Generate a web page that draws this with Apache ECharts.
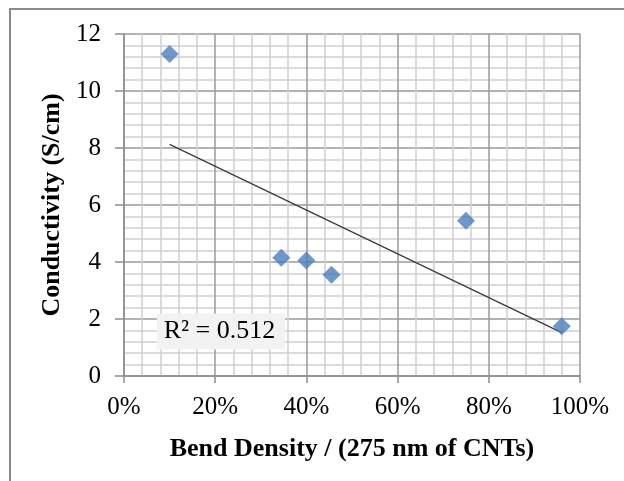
<!DOCTYPE html>
<html>
<head>
<meta charset="utf-8">
<script src="https://cdn.jsdelivr.net/npm/echarts@6/dist/echarts.min.js"></script>
<style>
  html, body { margin: 0; padding: 0; background: #fff; }
  #chart { width: 624px; height: 481px; }
</style>
</head>
<body>
<div id="chart"></div>
<script>
    // data
    const bendDensity = [0.10, 0.345, 0.40, 0.455, 0.75, 0.96];
    const conductivity = [11.3, 4.15, 4.05, 3.55, 5.45, 1.75];
    const xTicks = [0, 0.2, 0.4, 0.6, 0.8, 1.0];
    const yTicks = [0, 2, 4, 6, 8, 10, 12];

    // linear trendline (least squares) + R²
    function linFit(xs, ys) {
        const n = xs.length;
        const mx = xs.reduce((a, b) => a + b, 0) / n;
        const my = ys.reduce((a, b) => a + b, 0) / n;
        let sxy = 0, sxx = 0, syy = 0;
        for (let i = 0; i < n; i++) {
            sxy += (xs[i] - mx) * (ys[i] - my);
            sxx += (xs[i] - mx) * (xs[i] - mx);
            syy += (ys[i] - my) * (ys[i] - my);
        }
        const slope = sxy / sxx;
        return { slope: slope, intercept: my - slope * mx, r2: (sxy * sxy) / (sxx * syy) };
    }
    const fit = linFit(bendDensity, conductivity);
    const xMin = Math.min(...bendDensity), xMax = Math.max(...bendDensity);
    const trend = [
        [xMin, fit.intercept + fit.slope * xMin],
        [xMax, fit.intercept + fit.slope * xMax]
    ];

    const FONT = '"Liberation Serif", "Times New Roman", serif';
    const chart = echarts.init(document.getElementById('chart'));

    chart.setOption({
        animation: false,
        grid: { left: 124, right: 44, top: 34, bottom: 105, containLabel: false },
        xAxis: {
            type: 'value',
            min: xTicks[0],
            max: xTicks[xTicks.length - 1],
            interval: 0.2,
            name: 'Bend Density / (275 nm of CNTs)',
            nameLocation: 'middle',
            nameGap: 60,
            nameTextStyle: { fontFamily: FONT, fontSize: 26, fontWeight: 'bold', color: '#000' },
            axisLine: { lineStyle: { color: '#8c8c8c', width: 1.5 } },
            axisTick: { show: true, length: 7, lineStyle: { color: '#8c8c8c', width: 1.5 } },
            axisLabel: {
                fontFamily: FONT, fontSize: 25, color: '#000', margin: 19,
                formatter: v => Math.round(v * 100) + '%'
            },
            splitLine: { show: true, lineStyle: { color: '#9a9a9a', width: 1.5 } },
            minorTick: { show: false, splitNumber: 5 },
            minorSplitLine: { show: true, lineStyle: { color: '#d0d0d0', width: 1.5 } }
        },
        yAxis: {
            type: 'value',
            min: yTicks[0],
            max: yTicks[yTicks.length - 1],
            interval: 2,
            name: 'Conductivity (S/cm)',
            nameLocation: 'middle',
            nameGap: 57,
            nameTextStyle: { fontFamily: FONT, fontSize: 26, fontWeight: 'bold', color: '#000' },
            axisLine: { show: true, lineStyle: { color: '#8c8c8c', width: 1.5 } },
            axisTick: { show: true, length: 9, lineStyle: { color: '#8c8c8c', width: 1.5 } },
            axisLabel: { fontFamily: FONT, fontSize: 25, color: '#000', margin: 23 },
            splitLine: { show: true, lineStyle: { color: '#9a9a9a', width: 1.5 } },
            minorTick: { show: false, splitNumber: 5 },
            minorSplitLine: { show: true, lineStyle: { color: '#d0d0d0', width: 1.5 } }
        },
        series: [{
            name: 'trend',
            type: 'line',
            data: trend,
            symbol: 'none',
            lineStyle: { color: '#3a3a3a', width: 1.2 },
            z: 3
        }, {
            name: 'Conductivity',
            type: 'scatter',
            data: bendDensity.map((x, i) => [x, conductivity[i]]),
            symbol: 'diamond',
            symbolSize: 18,
            itemStyle: { color: '#4A7EBB' },
            z: 4
        }]
    });

    // R² label placed in data space, near the lower-left of the plot
    const labelPos = chart.convertToPixel({ gridIndex: 0 }, [0.072, 1.56]);
    chart.setOption({
        graphic: [{
            type: 'rect',
            shape: { x: 10, y: 9, width: 700, height: 600 },
            style: { fill: 'none', stroke: '#8a8a8a', lineWidth: 2 },
            silent: true
        }, {
            type: 'text',
            x: labelPos[0],
            y: labelPos[1],
            style: {
                text: 'R² = ' + fit.r2.toFixed(3),
                font: '26px ' + FONT,
                fill: '#000',
                backgroundColor: '#f2f2f2',
                padding: [6, 10, 4, 7],
                verticalAlign: 'middle',
                align: 'left'
            },
            z: 10
        }]
    });
</script>
</body>
</html>
